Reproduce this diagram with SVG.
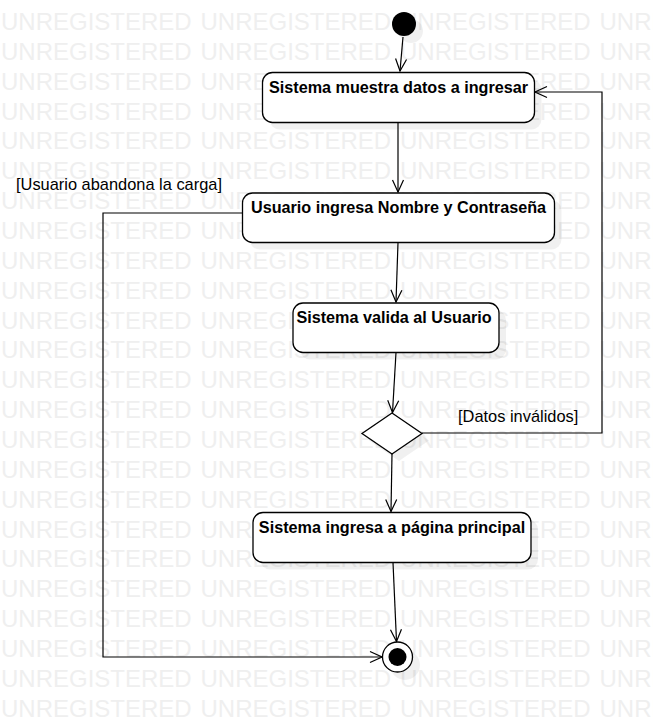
<svg xmlns="http://www.w3.org/2000/svg" xmlns:xlink="http://www.w3.org/1999/xlink" width="653" height="723" viewBox="0 0 653 723">
<style>
.wm{font-family:"Liberation Sans",Arial,sans-serif;font-size:24px;fill:#efefef}
.node{fill:#fff;stroke:#000;stroke-width:1.3}
.shadow{fill:#000;fill-opacity:0.06}
.lbl{font-family:"Liberation Sans",Arial,sans-serif;font-size:16.2px;font-weight:bold;fill:#000;text-anchor:middle}
.guard{font-family:"Liberation Sans",Arial,sans-serif;font-size:16.4px;fill:#000}
.edge{fill:none;stroke:#000;stroke-width:1.2}
</style>
<defs>
<marker id="arr" markerUnits="userSpaceOnUse" markerWidth="14" markerHeight="14" viewBox="0 0 14 14" refX="13" refY="7" orient="auto">
<path d="M1,1.5 L13,7 L1,12.5" fill="none" stroke="#000" stroke-width="1.2"/>
</marker>
<g id="wmrow">
<text class="wm" x="1" y="0">UNREGISTERED</text>
<text class="wm" x="200.5" y="0">UNREGISTERED</text>
<text class="wm" x="400" y="0">UNREGISTERED</text>
<text class="wm" x="599.5" y="0">UNREGISTERED</text>
</g>
</defs>
<rect width="653" height="723" fill="#fff"/>
<g id="watermark">
<use xlink:href="#wmrow" y="30"/>
<use xlink:href="#wmrow" y="59.86"/>
<use xlink:href="#wmrow" y="89.72"/>
<use xlink:href="#wmrow" y="119.58"/>
<use xlink:href="#wmrow" y="149.44"/>
<use xlink:href="#wmrow" y="179.3"/>
<use xlink:href="#wmrow" y="209.16"/>
<use xlink:href="#wmrow" y="239.02"/>
<use xlink:href="#wmrow" y="268.88"/>
<use xlink:href="#wmrow" y="298.74"/>
<use xlink:href="#wmrow" y="328.6"/>
<use xlink:href="#wmrow" y="358.46"/>
<use xlink:href="#wmrow" y="388.32"/>
<use xlink:href="#wmrow" y="418.18"/>
<use xlink:href="#wmrow" y="448.04"/>
<use xlink:href="#wmrow" y="477.9"/>
<use xlink:href="#wmrow" y="507.76"/>
<use xlink:href="#wmrow" y="537.62"/>
<use xlink:href="#wmrow" y="567.48"/>
<use xlink:href="#wmrow" y="597.34"/>
<use xlink:href="#wmrow" y="627.2"/>
<use xlink:href="#wmrow" y="657.06"/>
<use xlink:href="#wmrow" y="686.92"/>
<use xlink:href="#wmrow" y="716.78"/>
</g>
<g id="shadows">
<circle class="shadow" cx="411" cy="31" r="12"/>
<rect class="shadow" x="269.5" y="79.5" width="272" height="50" rx="10"/>
<rect class="shadow" x="249.5" y="200" width="312" height="49.5" rx="10"/>
<rect class="shadow" x="300" y="310" width="206" height="49.5" rx="10"/>
<path class="shadow" d="M399,420 L429,440.5 L399,461 L369,440.5 Z"/>
<rect class="shadow" x="260" y="519.5" width="278" height="50" rx="10"/>
<circle class="shadow" cx="405" cy="665" r="15"/>
</g>
<g id="edges">
<path class="edge" d="M403,37 L400,71" marker-end="url(#arr)"/>
<path class="edge" d="M398,122.5 L398,192" marker-end="url(#arr)"/>
<path class="edge" d="M398,242.5 L396,302" marker-end="url(#arr)"/>
<path class="edge" d="M396,352.5 L392.5,412.5" marker-end="url(#arr)"/>
<path class="edge" d="M392,454 L391,511.5" marker-end="url(#arr)"/>
<path class="edge" d="M393,562.5 L396.5,641.5" marker-end="url(#arr)"/>
<path class="edge" d="M422,433 L602,433 L602,92 L535,92" marker-end="url(#arr)"/>
<path class="edge" d="M242,213 L103,213 L103,657 L382,657" marker-end="url(#arr)"/>
<text class="guard" x="16" y="190">[Usuario abandona la carga]</text>
<text class="guard" x="458" y="422">[Datos inválidos]</text>
</g>
<g id="start">
<circle cx="404" cy="24" r="12" fill="#000"/>
</g>
<g id="n1">
<rect class="node" x="262.5" y="72.5" width="272" height="50" rx="10"/>
<text class="lbl" x="398.5" y="93">Sistema muestra datos a ingresar</text>
</g>
<g id="n2">
<rect class="node" x="242.5" y="193" width="312" height="49.5" rx="10"/>
<text class="lbl" x="398.5" y="212.5">Usuario ingresa Nombre y Contraseña</text>
</g>
<g id="n3">
<rect class="node" x="293" y="303" width="206" height="49.5" rx="10"/>
<text class="lbl" x="394" y="322.5">Sistema valida al Usuario</text>
</g>
<g id="decision">
<path class="node" d="M392,413 L422,433.5 L392,454 L362,433.5 Z"/>
</g>
<g id="n4">
<rect class="node" x="253" y="512.5" width="278" height="50" rx="10"/>
<text class="lbl" x="392" y="533">Sistema ingresa a página principal</text>
</g>
<g id="end">
<circle cx="397.5" cy="657" r="15" fill="#fff" stroke="#000" stroke-width="1.3"/>
<circle cx="397.5" cy="657" r="9" fill="#000"/>
</g>
</svg>
